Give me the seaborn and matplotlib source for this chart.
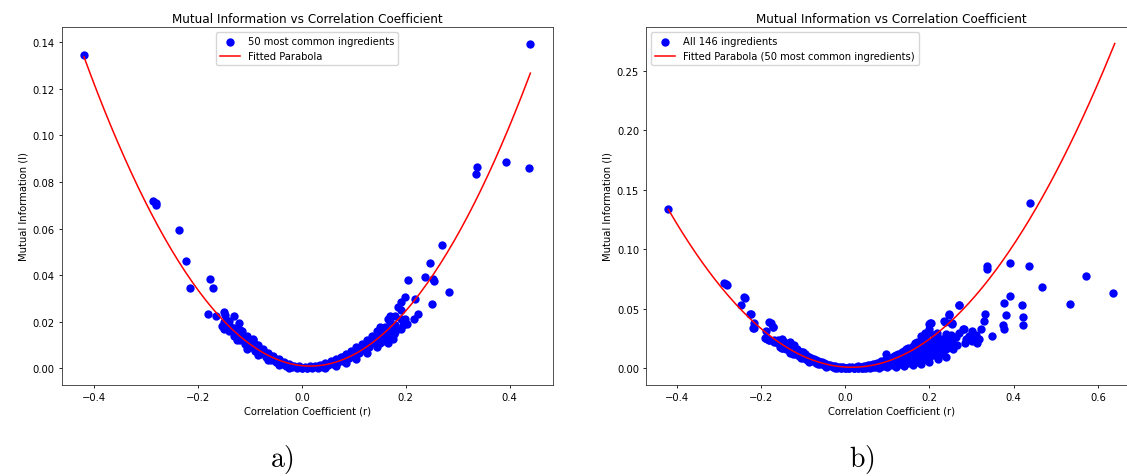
import numpy as np
import pandas as pd
import matplotlib
matplotlib.use("Agg")
import matplotlib.pyplot as plt
import seaborn as sns

# ---------------- data ----------------
# Panel a) : 50 most common ingredients
a_out_r = [-0.420, 0.4385, -0.287, -0.282, -0.281, -0.237, -0.224, -0.216, -0.177, -0.172,
           -0.182, -0.165, -0.150, -0.148, -0.131, -0.122, -0.154, -0.151, -0.140, -0.120,
           -0.105, -0.095, 0.3375, 0.336, 0.3924, 0.437, 0.2694, 0.2467, 0.2364, 0.2034,
           0.2529, 0.254, 0.2825, 0.251, 0.2185, 0.198, 0.191, 0.223, 0.215, 0.198,
           0.203, 0.191, 0.150, 0.166, 0.170, 0.177, 0.169, 0.157, 0.185, 0.195]
a_out_mi = [0.1342, 0.1393, 0.0718, 0.0708, 0.0699, 0.0592, 0.0460, 0.0343, 0.0385, 0.0347,
            0.0235, 0.0223, 0.0244, 0.0230, 0.0225, 0.0194, 0.0180, 0.0168, 0.0185, 0.0165,
            0.0140, 0.0125, 0.0863, 0.0832, 0.0886, 0.0858, 0.0529, 0.0450, 0.0394, 0.0380,
            0.0385, 0.0375, 0.0328, 0.0277, 0.0297, 0.0307, 0.0283, 0.0233, 0.0211, 0.0211,
            0.0190, 0.0168, 0.0176, 0.0211, 0.0225, 0.0147, 0.0133, 0.0118, 0.0265, 0.0185]

a_band_r = [-0.15, -0.15, -0.14, -0.14, -0.14, -0.13, -0.13, -0.13, -0.12, -0.12, -0.12,
            -0.11, -0.11, -0.11, -0.10, -0.10, -0.10, -0.09, -0.09, -0.09, -0.08, -0.08, -0.08,
            -0.07, -0.07, -0.07, -0.06, -0.06, -0.06, -0.05, -0.05, -0.05, -0.04, -0.04,
            -0.03, -0.03, -0.02, -0.02, -0.01, -0.01, 0.00, 0.00, 0.01, 0.01, 0.02, 0.02,
            0.03, 0.03, 0.04, 0.04, 0.05, 0.05, 0.06, 0.06, 0.07, 0.07, 0.08, 0.08, 0.09, 0.09,
            0.10, 0.10, 0.10, 0.11, 0.11, 0.11, 0.12, 0.12, 0.12, 0.13, 0.13, 0.13,
            0.14, 0.14, 0.14, 0.15, 0.15, 0.15, 0.15, 0.16, 0.16, 0.16, 0.16,
            0.17, 0.17, 0.17, 0.18, 0.18, 0.18, 0.19, 0.19]
a_band_mi = [0.0200, 0.0175, 0.0185, 0.0160, 0.0205, 0.0160, 0.0140, 0.0175, 0.0140, 0.0120, 0.0155,
             0.0122, 0.0105, 0.0135, 0.0105, 0.0090, 0.0120, 0.0090, 0.0075, 0.0105, 0.0074, 0.0062, 0.0085,
             0.0060, 0.0050, 0.0068, 0.0047, 0.0038, 0.0054, 0.0036, 0.0028, 0.0042, 0.0026, 0.0019,
             0.0018, 0.0011, 0.0011, 0.0005, 0.0006, 0.0002, 0.0003, 0.0000, 0.0003, 0.0000, 0.0005, 0.0002,
             0.0009, 0.0004, 0.0014, 0.0008, 0.0020, 0.0013, 0.0028, 0.0019, 0.0037, 0.0026, 0.0047, 0.0034,
             0.0058, 0.0044, 0.0071, 0.0055, 0.0062, 0.0085, 0.0066, 0.0075, 0.0100, 0.0078, 0.0090,
             0.0117, 0.0092, 0.0105, 0.0135, 0.0108, 0.0120, 0.0155, 0.0125, 0.0140, 0.0110,
             0.0178, 0.0145, 0.0160, 0.0125, 0.0200, 0.0165, 0.0140, 0.0225, 0.0185, 0.0155,
             0.0250, 0.0210]

# extra points thickening the dense band of panel a)
a_fill_r = [-0.125, -0.115, -0.105, -0.095, -0.085, -0.075, -0.065, -0.055, -0.045, -0.035,
            -0.025, -0.015, -0.005, 0.005, 0.015, 0.025, 0.035, 0.045, 0.055, 0.065,
            0.075, 0.085, 0.095, 0.105, 0.115, 0.125, 0.135, 0.145,
            -0.125, -0.105, -0.085, -0.065, -0.045, -0.025, 0.045, 0.065, 0.085, 0.105,
            0.125, 0.145, 0.165, 0.175]
a_fill_mi = [0.0175, 0.0160, 0.0135, 0.0120, 0.0100, 0.0082, 0.0066, 0.0052, 0.0040, 0.0028,
             0.0019, 0.0012, 0.0009, 0.0008, 0.0009, 0.0011, 0.0016, 0.0022, 0.0030, 0.0040,
             0.0050, 0.0062, 0.0075, 0.0090, 0.0105, 0.0122, 0.0140, 0.0160,
             0.0120, 0.0085, 0.0058, 0.0035, 0.0015, 0.0003, 0.0003, 0.0010, 0.0022, 0.0040,
             0.0065, 0.0090, 0.0110, 0.0125]

# Panel b) : all 146 ingredients (extra points beyond panel a)
b_out_r = [-0.241, -0.247, -0.225, -0.217, -0.218, -0.181, -0.172, -0.189, -0.185, -0.170,
           0.572, 0.467, 0.637, 0.534, 0.392, 0.376, 0.382, 0.421, 0.423, 0.423,
           0.374, 0.376, 0.348, 0.332, 0.330, 0.270, 0.247, 0.252, 0.235, 0.202,
           0.280, 0.301, 0.312, 0.288, 0.323, 0.271, 0.254, 0.256, 0.228, 0.295,
           0.310, 0.318, 0.262, 0.284, 0.300, 0.266, 0.243, 0.240, 0.232, 0.097]
b_out_mi = [0.0599, 0.0530, 0.0460, 0.0385, 0.0343, 0.0390, 0.0350, 0.0315, 0.0245, 0.0240,
            0.0780, 0.0686, 0.0633, 0.0541, 0.0608, 0.0552, 0.0452, 0.0532, 0.0435, 0.0365,
            0.0362, 0.0329, 0.0273, 0.0454, 0.0396, 0.0532, 0.0454, 0.0385, 0.0396, 0.0379,
            0.0330, 0.0315, 0.0217, 0.0245, 0.0330, 0.0300, 0.0230, 0.0160, 0.0120, 0.0270,
            0.0280, 0.0250, 0.0265, 0.0210, 0.0230, 0.0200, 0.0270, 0.0190, 0.0150, 0.0120]

b_band_r = [-0.19, -0.18, -0.17, -0.16, -0.15, -0.14,
            0.02, 0.03, 0.04, 0.05, 0.05, 0.06, 0.06, 0.07, 0.07, 0.08, 0.08, 0.09, 0.09,
            0.10, 0.10, 0.11, 0.11, 0.12, 0.12, 0.12, 0.13, 0.13, 0.13, 0.14, 0.14, 0.14,
            0.15, 0.15, 0.15, 0.16, 0.16, 0.16, 0.16, 0.17, 0.17, 0.17, 0.17,
            0.18, 0.18, 0.18, 0.18, 0.18, 0.19, 0.19, 0.19, 0.19, 0.19,
            0.20, 0.20, 0.20, 0.20, 0.20, 0.21, 0.21, 0.21, 0.21, 0.21,
            0.22, 0.22, 0.22, 0.22, 0.23, 0.23, 0.23, 0.24, 0.24, 0.24, 0.25, 0.25,
            0.08, 0.10, 0.12, 0.14, 0.16, 0.18, 0.20, 0.22, 0.24,
            -0.10, -0.12, -0.14, -0.16, -0.13, -0.01, 0.01, 0.03]
b_band_mi = [0.0255, 0.0240, 0.0225, 0.0215, 0.0200, 0.0190,
             0.0000, 0.0002, 0.0003, 0.0005, 0.0010, 0.0008, 0.0016, 0.0011, 0.0020, 0.0014, 0.0026, 0.0018, 0.0033,
             0.0022, 0.0040, 0.0026, 0.0048, 0.0030, 0.0055, 0.0110, 0.0035, 0.0062, 0.0095, 0.0040, 0.0070, 0.0150,
             0.0045, 0.0078, 0.0110, 0.0050, 0.0085, 0.0120, 0.0185, 0.0058, 0.0092, 0.0130, 0.0170,
             0.0065, 0.0100, 0.0140, 0.0230, 0.0270, 0.0080, 0.0120, 0.0165, 0.0210, 0.0300,
             0.0090, 0.0135, 0.0180, 0.0330, 0.0370, 0.0110, 0.0150, 0.0200, 0.0245, 0.0280,
             0.0125, 0.0170, 0.0215, 0.0260, 0.0120, 0.0190, 0.0250, 0.0160, 0.0220, 0.0290, 0.0180, 0.0240,
             0.0005, 0.0010, 0.0015, 0.0020, 0.0030, 0.0040, 0.0055, 0.0080, 0.0100,
             0.0135, 0.0165, 0.0210, 0.0240, 0.0130, 0.0015, 0.0015, 0.0018]

# Fitted parabola coefficients (fit on the 50 most common ingredients)
parabola_coef = [0.698, -0.0221, 0.0012]
a_fit_range = [-0.42, 0.44]
b_fit_range = [-0.42, 0.64]

# ---------------- build frames ----------------
a_r = a_out_r + a_band_r + a_fill_r
a_mi = a_out_mi + a_band_mi + a_fill_mi
df_a = pd.DataFrame({"r": a_r, "mi": a_mi})
df_b = pd.DataFrame({"r": a_r + b_out_r + b_band_r, "mi": a_mi + b_out_mi + b_band_mi})


def fit_frame(rng):
    xs = np.linspace(rng[0], rng[1], 200)
    return pd.DataFrame({"r": xs, "mi": np.polyval(parabola_coef, xs)})


fit_a = fit_frame(a_fit_range)
fit_b = fit_frame(b_fit_range)

# ---------------- figure ----------------
plt.rcParams.update({
    "font.family": "DejaVu Sans",
    "xtick.labelsize": 7.2, "ytick.labelsize": 7.2,
    "axes.labelsize": 7.2, "axes.titlesize": 8.64,
    "legend.fontsize": 7.2,
    "axes.linewidth": 0.6,
    "xtick.major.width": 0.6, "ytick.major.width": 0.6,
    "xtick.major.size": 2.5, "ytick.major.size": 2.5,
    "xtick.major.pad": 2.5, "ytick.major.pad": 2.5,
    "mathtext.fontset": "cm",
})

fig = plt.figure(figsize=(11.27, 4.77), dpi=100)
ax_a = fig.add_axes([0.0547, 0.1914, 0.4357, 0.7493])
ax_b = fig.add_axes([0.5732, 0.1914, 0.4357, 0.7493])

for ax, df, fit, lab_pts, lab_fit, loc in [
    (ax_a, df_a, fit_a, "50 most common ingredients", "Fitted Parabola", "upper center"),
    (ax_b, df_b, fit_b, "All 146 ingredients", "Fitted Parabola (50 most common ingredients)", "upper left"),
]:
    sns.scatterplot(data=df, x="r", y="mi", ax=ax, color="blue", s=36,
                    linewidth=0, label=lab_pts, zorder=2)
    sns.lineplot(data=fit, x="r", y="mi", ax=ax, color="red", linewidth=1.1,
                 sort=False, estimator=None, label=lab_fit, zorder=3)
    ax.set_title("Mutual Information vs Correlation Coefficient", pad=4)
    ax.set_xlabel("Correlation Coefficient (r)", labelpad=3)
    ax.set_ylabel("Mutual Information (I)", labelpad=3)
    ax.legend(loc=loc, handlelength=2.0, borderpad=0.4, labelspacing=0.5,
              handletextpad=0.8, framealpha=0.8, scatterpoints=1)
    for sp in ax.spines.values():
        sp.set_color("#333333")

ax_a.margins(x=0.05, y=0.05)
ax_b.margins(x=0.05, y=0.05)

fig.text(282 / 1127, 1 - 460 / 477, r"$\mathrm{a)}$", fontsize=20, ha="center", va="center")
fig.text(862 / 1127, 1 - 460 / 477, r"$\mathrm{b)}$", fontsize=20, ha="center", va="center")

fig.savefig("out.png", dpi=100)
